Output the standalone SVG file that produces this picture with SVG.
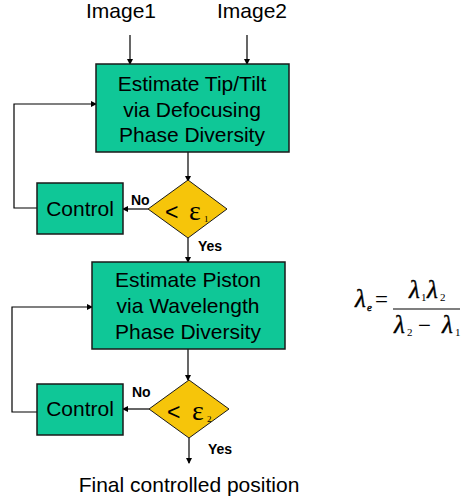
<svg xmlns="http://www.w3.org/2000/svg" width="465" height="501" viewBox="0 0 465 501">
<defs>
<marker id="ah" markerWidth="6" markerHeight="6" refX="5" refY="3" orient="auto" markerUnits="userSpaceOnUse">
<path d="M0,0 L6,3 L0,6 Z" fill="#000"/>
</marker>
<style>
.box{fill:#0FC797;stroke:#1a1a1a;stroke-width:1.5}
.dia{fill:#F6C50A;stroke:#1a1a1a;stroke-width:1}
.t{font-family:"Liberation Sans",Arial,sans-serif;font-size:21px;fill:#000;text-anchor:middle}
.lb{font-family:"Liberation Sans",Arial,sans-serif;font-size:14px;font-weight:bold;fill:#000}
.lt{font-family:"Liberation Sans",Arial,sans-serif;font-size:23px;fill:#000}
.e{font-family:"Liberation Serif","Times New Roman",serif;fill:#000}
.c{fill:none;stroke:#000;stroke-width:1.2}
.m{font-family:"Liberation Serif","Times New Roman",serif;font-style:italic;fill:#000;stroke:#000;stroke-width:0.4}
</style>
</defs>
<rect width="465" height="501" fill="#fff"/>
<g id="connectors">
<line class="c" x1="130" y1="35" x2="130" y2="64" marker-end="url(#ah)"/>
<line class="c" x1="247" y1="35" x2="247" y2="64" marker-end="url(#ah)"/>
<line class="c" x1="188" y1="152" x2="188" y2="181" marker-end="url(#ah)"/>
<line class="c" x1="148" y1="209" x2="123" y2="209" marker-end="url(#ah)"/>
<polyline class="c" points="37,208 14,208 14,104 96,104" marker-end="url(#ah)"/>
<line class="c" x1="188" y1="238" x2="188" y2="262" marker-end="url(#ah)"/>
<line class="c" x1="188" y1="349" x2="188" y2="380" marker-end="url(#ah)"/>
<line class="c" x1="149" y1="409" x2="123" y2="409" marker-end="url(#ah)"/>
<polyline class="c" points="37,412 12,412 12,307 92,307" marker-end="url(#ah)"/>
<line class="c" x1="189" y1="438" x2="189" y2="463" marker-end="url(#ah)"/>
</g>
<g id="image1"><text class="t" x="121" y="18">Image1</text></g>
<g id="image2"><text class="t" x="252" y="18">Image2</text></g>
<g id="box1">
<rect class="box" x="96" y="64" width="193" height="88"/>
<text class="t" x="192" y="91">Estimate Tip/Tilt</text>
<text class="t" x="192" y="117">via Defocusing</text>
<text class="t" x="192" y="142">Phase Diversity</text>
</g>
<g id="decision1">
<polygon class="dia" points="188,180 227,209 188,238 148,209"/>
<text class="lt" x="165" y="220">&lt;</text>
<text class="e" x="189" y="220" font-size="28">ε</text>
<text class="e" x="204" y="222" font-size="9">1</text>
</g>
<g id="control1">
<rect class="box" x="37" y="183" width="86" height="51"/>
<text class="t" x="80" y="216">Control</text>
</g>
<text class="lb" x="131" y="205">No</text>
<text class="lb" x="198" y="251">Yes</text>
<g id="box2">
<rect class="box" x="92" y="262" width="193" height="87"/>
<text class="t" x="188" y="287">Estimate Piston</text>
<text class="t" x="188" y="313">via Wavelength</text>
<text class="t" x="188" y="339">Phase Diversity</text>
</g>
<g id="decision2">
<polygon class="dia" points="189,380 229,409 189,438 149,409"/>
<text class="lt" x="167" y="420">&lt;</text>
<text class="e" x="192" y="420" font-size="28">ε</text>
<text class="e" x="207" y="422" font-size="9">2</text>
</g>
<g id="control2">
<rect class="box" x="37" y="384" width="86" height="51"/>
<text class="t" x="80" y="416">Control</text>
</g>
<text class="lb" x="132" y="397">No</text>
<text class="lb" x="208" y="454">Yes</text>
<g id="final"><text class="t" x="189" y="492">Final controlled position</text></g>
<g id="formula">
<text class="m" x="355" y="307" font-size="25">λ</text>
<text class="m" x="367" y="311" font-size="11" stroke-width="0">e</text>
<text class="e" x="375" y="307" font-size="23">=</text>
<line x1="393" y1="309" x2="460" y2="309" stroke="#000" stroke-width="1.2"/>
<text class="m" x="409" y="298" font-size="25">λ</text>
<text class="e" x="421" y="301" font-size="11">1</text>
<text class="m" x="427" y="298" font-size="25">λ</text>
<text class="e" x="440" y="301" font-size="11">2</text>
<text class="m" x="394" y="333" font-size="25">λ</text>
<text class="e" x="407" y="336" font-size="11">2</text>
<text class="e" x="418" y="333" font-size="23">−</text>
<text class="m" x="442" y="333" font-size="25">λ</text>
<text class="e" x="455" y="336" font-size="11">1</text>
</g>
</svg>
